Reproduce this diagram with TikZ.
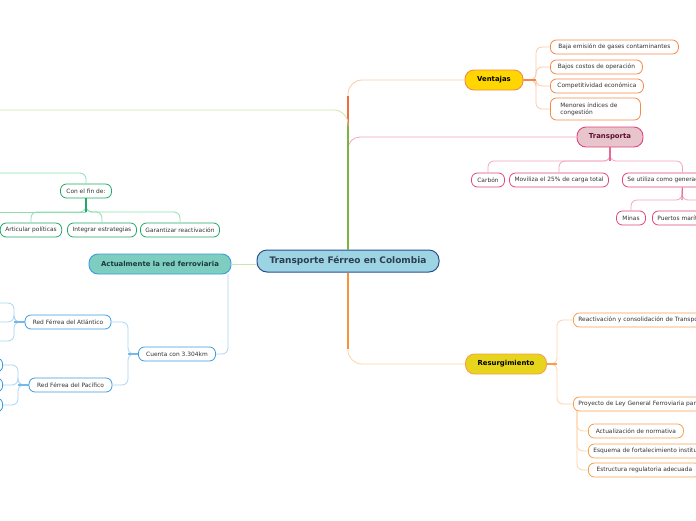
\documentclass[tikz,border=0pt]{standalone}
\usepackage{fontspec}
\setmainfont{DejaVu Sans}
\definecolor{rootfill}{HTML}{9DD4E4}
\definecolor{rootline}{HTML}{2B4F8E}
\definecolor{roottext}{HTML}{2D3E50}
\definecolor{ventfill}{HTML}{FFD600}
\definecolor{ventline}{HTML}{F4894A}
\definecolor{ventpale}{HTML}{FCC8A6}
\definecolor{trunkorange}{HTML}{F26B3A}
\definecolor{transfill}{HTML}{E8C4CC}
\definecolor{transline}{HTML}{E0457B}
\definecolor{transpale}{HTML}{F5A3BF}
\definecolor{transtext}{HTML}{5A1030}
\definecolor{finline}{HTML}{22A868}
\definecolor{finpale}{HTML}{8EDDB0}
\definecolor{trunkgreen}{HTML}{7CB342}
\definecolor{greenpale}{HTML}{C8E6B0}
\definecolor{actfill}{HTML}{7ECDC1}
\definecolor{acttext}{HTML}{1A3A3A}
\definecolor{redline}{HTML}{3A9BE0}
\definecolor{redpale}{HTML}{A8D5F2}
\definecolor{resfill}{HTML}{E6D51C}
\definecolor{resline}{HTML}{F5A04A}
\definecolor{respale}{HTML}{FDD3A8}
\definecolor{trunkres}{HTML}{F7943A}
\definecolor{leaftext}{HTML}{333333}

\begin{document}
\begin{tikzpicture}[x=1pt,y=-1pt]
			\tikzstyle{leaf} = [draw, fill=white, rounded corners=6pt, line width=0.8pt, minimum height=14pt, inner xsep=5pt, inner ysep=0pt, font=\fontsize{5.9}{7}\selectfont, text=leaftext]
			\tikzstyle{topic} = [draw, rounded corners=9pt, line width=0.9pt, minimum height=20pt, inner xsep=8pt, font=\bfseries\fontsize{6.9}{8}\selectfont]
			\tikzstyle{link} = [line width=0.8pt, rounded corners=6pt]
			\tikzstyle{stem} = [line width=1.1pt]
			\tikzstyle{trunk} = [line width=1.8pt]
			\useasboundingbox (0,0) rectangle (696,520);
			\node[draw=rootline, fill=rootfill, text=roottext, rounded corners=10pt, line width=1pt, minimum width=182pt, minimum height=22pt, font=\bfseries\fontsize{9}{10}\selectfont] (root) at (348,261) {Transporte Férreo en Colombia};
			\node[topic, fill=ventfill, draw=ventline, minimum width=58pt] (vent) at (494,80) {Ventajas};
			\node[leaf, draw=ventline, anchor=west, minimum width=128pt] (baja) at (550,47) {Baja emisión de gases contaminantes};
			\node[leaf, draw=ventline, anchor=west, minimum width=92pt] (bajos) at (550,67) {Bajos costos de operación};
			\node[leaf, draw=ventline, anchor=west, minimum width=93pt] (compet) at (550,86) {Competitividad económica};
			\node[leaf, draw=ventline, anchor=west, minimum height=22pt, inner xsep=10pt, text width=70pt, align=left] (menores) at (550,109) {Menores índices de\\congestión};
			\node[topic, fill=transfill, draw=transline, text=transtext, minimum width=66pt] (trans) at (610,137) {Transporta};
			\node[leaf, draw=transline, minimum width=33pt] (carbon) at (488,180) {Carbón};
			\node[leaf, draw=transline, minimum width=97pt] (moviliza) at (559,180) {Moviliza el 25\% de carga total};
			\node[leaf, draw=transline, anchor=west, text width=110pt, align=left] (seutil) at (622,180) {Se utiliza como generador de};
			\node[leaf, draw=transline, minimum width=29pt] (minas) at (631,218) {Minas};
			\node[leaf, draw=transline, anchor=west, text width=100pt, align=left] (puertos) at (652,218) {Puertos marítimos};
			\node[leaf, draw=finline, minimum width=51pt] (confin) at (86,191) {Con el fin de:};
			\node[leaf, draw=finline, minimum width=61pt] (art) at (31,230) {Articular políticas};
			\node[leaf, draw=finline, minimum width=69pt] (integ) at (102,230) {Integrar estrategias};
			\node[leaf, draw=finline, minimum width=77pt] (garan) at (180,230) {Garantizar reactivación};
			\node[topic, fill=actfill, draw=redline, text=acttext, minimum width=142pt] (act) at (160,264) {Actualmente la red ferroviaria};
			\node[leaf, draw=redline, minimum width=77pt] (cuenta) at (177,354) {Cuenta con 3.304km};
			\node[leaf, draw=redline, minimum width=86pt] (atl) at (68,322) {Red Férrea del Atlántico};
			\node[leaf, draw=redline, minimum width=83pt] (pac) at (70.5,385) {Red Férrea del Pacífico};
			\node[leaf, draw=redline, anchor=east, minimum width=40pt] (pacA) at (3,365) {};
			\node[leaf, draw=redline, anchor=east, minimum width=40pt] (pacB) at (3,385) {};
			\node[leaf, draw=redline, anchor=east, minimum width=40pt] (pacC) at (3,405) {};
			\node[topic, fill=resfill, draw=resline, minimum width=81pt] (resurg) at (506,364) {Resurgimiento};
			\node[leaf, draw=resline, anchor=west, text width=160pt, align=left] (reactiv) at (573,320) {Reactivación y consolidación de Transporte Férreo};
			\node[leaf, draw=resline, anchor=west, text width=160pt, align=left] (proyecto) at (573,404) {Proyecto de Ley General Ferroviaria para};
			\node[leaf, draw=resline, anchor=west, minimum width=95pt] (actualiz) at (588,431) {Actualización de normativa};
			\node[leaf, draw=resline, anchor=west, text width=140pt, align=left] (esquema) at (588,451) {Esquema de fortalecimiento institucional};
			\node[leaf, draw=resline, anchor=west, minimum width=112pt] (estruct) at (588,470) {Estructura regulatoria adecuada};
			\coordinate (vbend) at (348,96);
			\coordinate (gbend) at (348,126);
			\coordinate (gleft) at (-10,110);
			\coordinate (rbend) at (348,349);
			\draw[trunk, trunkorange] (root.north) -- (vbend);
			\draw[link, ventpale, rounded corners=14pt] (vbend) |- (vent.west);
			\draw[link, transpale, rounded corners=12pt] (root.north) |- (trans.west);
			\draw[trunk, trunkgreen] (root.north) -- (gbend);
			\draw[link, greenpale, rounded corners=14pt] (gbend) |- (gleft);
			\draw[trunk, trunkres] (root.south) -- (rbend);
			\draw[link, respale, rounded corners=14pt] (rbend) |- (resurg.west);
			\draw[link, greenpale] (root.west |- act.east) -- (act.east);
			\coordinate (vbar) at (536,80);
			\foreach \n in {baja,bajos,compet,menores}
				\draw[link, ventpale] (vent.east) -- (vbar) |- (\n.west);
			\draw[stem, ventline] (vent.east) -- (vbar);
			\coordinate (tbar) at (610,161);
			\foreach \n in {carbon,moviliza,seutil}
				\draw[link, transpale] (trans.south) -- (tbar) -| (\n.north);
			\draw[stem, transline!80] (trans.south) -- (tbar);
			\coordinate (sbar) at (682,200);
			\foreach \n in {minas,puertos}
				\draw[link, transpale] (seutil.south) -- (sbar) -| (\n.north);
			\draw[stem, transline!80] (seutil.south) -- (sbar);
			\coordinate (cfleft) at (-10,173);
			\draw[link, finpale] (cfleft) -| (confin.north);
			\coordinate (cfbar) at (86,212);
			\coordinate (cfout) at (-10,212);
			\foreach \n in {art,integ,garan}
				\draw[link, finpale] (confin.south) -- (cfbar) -| (\n.north);
			\draw[link, finpale] (cfbar) -- (cfout);
			\draw[stem, finline] (confin.south) -- (cfbar);
			\coordinate (abot) at (228,274);
			\draw[link, redpale] (abot) |- (cuenta.east);
			\coordinate (cbar) at (128,354);
			\foreach \n in {atl,pac}
				\draw[link, redpale] (cuenta.west) -- (cbar) |- (\n.east);
			\draw[stem, redline!70] (cuenta.west) -- (cbar);
			\coordinate (atlbar) at (14,322);
			\coordinate (atlup) at (-10,303);
			\coordinate (atlmid) at (-10,322);
			\coordinate (atldown) at (-10,341);
			\foreach \n in {atlup,atlmid,atldown}
				\draw[link, redpale] (atl.west) -- (atlbar) |- (\n);
			\draw[stem, redline!70] (atl.west) -- (atlbar);
			\coordinate (pacbar) at (18,385);
			\foreach \n in {pacA,pacB,pacC}
				\draw[link, redpale] (pac.west) -- (pacbar) |- (\n.east);
			\draw[stem, redline!70] (pac.west) -- (pacbar);
			\coordinate (rsbar) at (557,364);
			\foreach \n in {reactiv,proyecto}
				\draw[link, respale] (resurg.east) -- (rsbar) |- (\n.west);
			\draw[stem, resline] (resurg.east) -- (rsbar);
			\coordinate (prbar) at (577,411);
			\foreach \n in {actualiz,esquema,estruct}
				\draw[link, respale] (prbar) |- (\n.west);
		\end{tikzpicture}
\end{document}
